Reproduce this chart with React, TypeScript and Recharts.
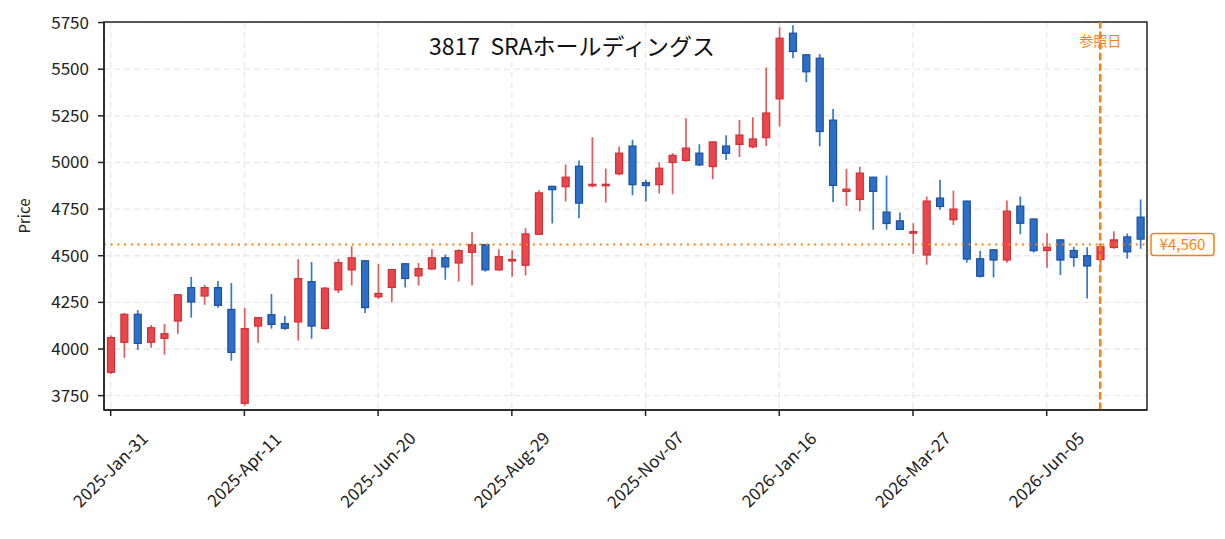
import { ComposedChart, Bar, XAxis, YAxis, CartesianGrid, ReferenceLine } from 'recharts'

// weekly candles (Friday close), 2025-01-31 .. 2026-07-24
const opens = [
  3875, 4036, 4186, 4036, 4057, 4150, 4329, 4284, 4329, 4212,
  3709, 4123, 4184, 4136, 4145, 4361, 4110, 4317, 4424, 4473,
  4280, 4330, 4457, 4392, 4429, 4489, 4461, 4518, 4560, 4424,
  4473, 4449, 4615, 4872, 4870, 4980, 4879, 4879, 4939, 5088,
  4892, 4881, 5000, 5011, 5050, 4978, 5088, 5097, 5084, 5133,
  5341, 5693, 5577, 5559, 5227, 4845, 4802, 4921, 4734, 4687,
  4621, 4504, 4809, 4693, 4793, 4484, 4532, 4477, 4766, 4697,
  4528, 4585, 4528, 4500, 4480, 4544, 4601, 4707,
]
const highs = [
  4073, 4193, 4209, 4129, 4134, 4295, 4386, 4343, 4364, 4354,
  4220, 4170, 4295, 4177, 4482, 4466, 4333, 4482, 4551, 4476,
  4456, 4428, 4460, 4461, 4535, 4507, 4535, 4626, 4562, 4535,
  4530, 4647, 4853, 4874, 4989, 5011, 5135, 4968, 5086, 5122,
  4908, 5000, 5049, 5237, 5097, 5112, 5146, 5227, 5243, 5509,
  5725, 5736, 5582, 5582, 5287, 4966, 4977, 4923, 4930, 4732,
  4674, 4817, 4908, 4849, 4795, 4525, 4534, 4796, 4817, 4699,
  4621, 4587, 4548, 4546, 4567, 4631, 4619, 4801,
]
const lows = [
  3866, 3953, 3995, 4007, 3970, 4082, 4168, 4237, 4221, 3937,
  3696, 4034, 4109, 4102, 4045, 4055, 4105, 4300, 4340, 4193,
  4268, 4250, 4330, 4340, 4425, 4371, 4362, 4340, 4415, 4420,
  4388, 4394, 4612, 4673, 4791, 4701, 4867, 4786, 4932, 4824,
  4791, 4834, 4829, 5004, 4980, 4910, 5013, 5029, 5076, 5088,
  5193, 5559, 5430, 5087, 4787, 4766, 4739, 4639, 4639, 4639,
  4509, 4452, 4746, 4665, 4463, 4383, 4383, 4463, 4615, 4518,
  4436, 4397, 4441, 4271, 4440, 4537, 4484, 4537,
]
const closes = [
  4061, 4186, 4030, 4114, 4082, 4291, 4252, 4329, 4234, 3982,
  4109, 4168, 4132, 4111, 4377, 4123, 4326, 4463, 4489, 4222,
  4298, 4426, 4378, 4431, 4489, 4440, 4527, 4559, 4424, 4495,
  4480, 4617, 4837, 4854, 4921, 4782, 4883, 4883, 5050, 4881,
  4876, 4969, 5038, 5077, 4987, 5110, 5049, 5147, 5126, 5265,
  5666, 5595, 5486, 5166, 4877, 4857, 4943, 4845, 4673, 4641,
  4629, 4793, 4764, 4750, 4482, 4390, 4477, 4739, 4674, 4527,
  4546, 4477, 4491, 4445, 4548, 4585, 4521, 4589,
]

const yTicks = [3750, 4000, 4250, 4500, 4750, 5000, 5250, 5500, 5750]
const referenceDate = '2026-Jul-03'
const referencePrice = 4560
const title = '3817  SRAホールディングス'

const MONTHS = ['Jan', 'Feb', 'Mar', 'Apr', 'May', 'Jun', 'Jul', 'Aug', 'Sep', 'Oct', 'Nov', 'Dec']
const weekLabel = (i: number) => {
  const d = new Date(Date.UTC(2025, 0, 31 + 7 * i))
  return `${d.getUTCFullYear()}-${MONTHS[d.getUTCMonth()]}-${String(d.getUTCDate()).padStart(2, '0')}`
}
const dates = opens.map((_, i) => weekLabel(i))

const data = dates.map((date, i) => ({
  date,
  open: opens[i],
  high: highs[i],
  low: lows[i],
  close: closes[i],
  range: [lows[i], highs[i]],
}))

const ORANGE = '#ff7f0e'
const FONT = '"Noto Sans CJK JP", "Noto Sans", sans-serif'

// draw one candle inside the [low, high] bar box the library hands us
const Candle = (props: any) => {
  const { x, y, width, height, payload } = props
  const { open, close, high, low } = payload
  const top = Math.min(y, y + height)
  const bottom = Math.max(y, y + height)
  const k = high > low ? (bottom - top) / (high - low) : 0
  const py = (v: number) => bottom - (v - low) * k
  const up = close >= open
  const cx = x + width / 2
  const bTop = py(Math.max(open, close))
  const bBot = py(Math.min(open, close))
  const bh = Math.max(bBot - bTop, 1.5)
  const fill = up ? '#e8484b' : '#2c6fc6'
  const edge = up ? '#cf3037' : '#1f4f9f'
  const wick = up ? '#e55a5c' : '#3578cf'
  return (
    <g>
      <line x1={cx} x2={cx} y1={top} y2={bottom} stroke={wick} strokeWidth={1.7} />
      <rect x={cx - 3.5} y={bTop} width={7} height={bh} fill={fill} stroke={edge} strokeWidth={1.2} />
    </g>
  )
}

const DateTick = (props: any) => {
  const { x, payload } = props
  return (
    <text
      x={x}
      y={470}
      dy="0.35em"
      textAnchor="middle"
      fontSize={17}
      fill="#222"
      transform={`rotate(-45, ${x}, 470)`}
    >
      {payload.value}
    </text>
  )
}

export default function App() {
  return (
    <div style={{ position: 'absolute', left: 0, top: 0, width: 1225, height: 539, background: '#fff', fontFamily: FONT }}>
      <ComposedChart width={1225} height={539} data={data} margin={{ top: 22, right: 78, bottom: 0, left: 44 }}>
        <CartesianGrid syncWithTicks stroke="#e8e8e8" strokeDasharray="6 4" strokeWidth={1.3} />
        <XAxis
          dataKey="date"
          type="category"
          interval={9}
          height={129}
          tick={<DateTick />}
          tickSize={6}
          tickLine={{ stroke: '#222', strokeWidth: 1.5 }}
          axisLine={{ stroke: '#222', strokeWidth: 1.5 }}
        />
        <YAxis
          domain={[3673, 5753]}
          ticks={yTicks}
          allowDataOverflow
          width={60}
          tickSize={6}
          tickMargin={9}
          tick={{ fontSize: 17, fill: '#222' }}
          tickLine={{ stroke: '#222', strokeWidth: 1.5 }}
          axisLine={{ stroke: '#222', strokeWidth: 1.5 }}
        />
        <Bar dataKey="range" barSize={8} shape={<Candle />} isAnimationActive={false} />
        <ReferenceLine
          y={referencePrice}
          stroke={ORANGE}
          strokeWidth={2}
          strokeDasharray="2 4.7"
          label={(p: any) => {
            const vb = p.viewBox
            const bx = vb.x + vb.width + 4
            return (
              <g>
                <rect x={bx} y={vb.y - 11} width={63} height={22} rx={3} fill="#fff" stroke={ORANGE} strokeWidth={1.5} />
                <text x={bx + 31.5} y={vb.y} dy="0.35em" textAnchor="middle" fontSize={15} fill={ORANGE}>
                  ¥{referencePrice.toLocaleString('en-US')}
                </text>
              </g>
            )
          }}
        />
        <ReferenceLine
          x={referenceDate}
          stroke={ORANGE}
          strokeWidth={2.5}
          strokeDasharray="7.4 3.2"
          label={(p: any) => {
            const vb = p.viewBox
            return (
              <text x={vb.x} y={vb.y + 19} dy="0.35em" textAnchor="middle" fontSize={14} fill={ORANGE}>
                参照日
              </text>
            )
          }}
        />
        <rect x={104} y={22} width={1043} height={388} fill="none" stroke="#222" strokeWidth={1.5} />
        <text x={572} y={47} dy="0.35em" textAnchor="middle" fontSize={23} fill="#111" style={{ whiteSpace: 'pre' }}>
          {title}
        </text>
        <text x={25} y={216} dy="0.35em" textAnchor="middle" fontSize={15} fill="#222" transform="rotate(-90, 25, 216)">
          Price
        </text>
      </ComposedChart>
    </div>
  )
}
